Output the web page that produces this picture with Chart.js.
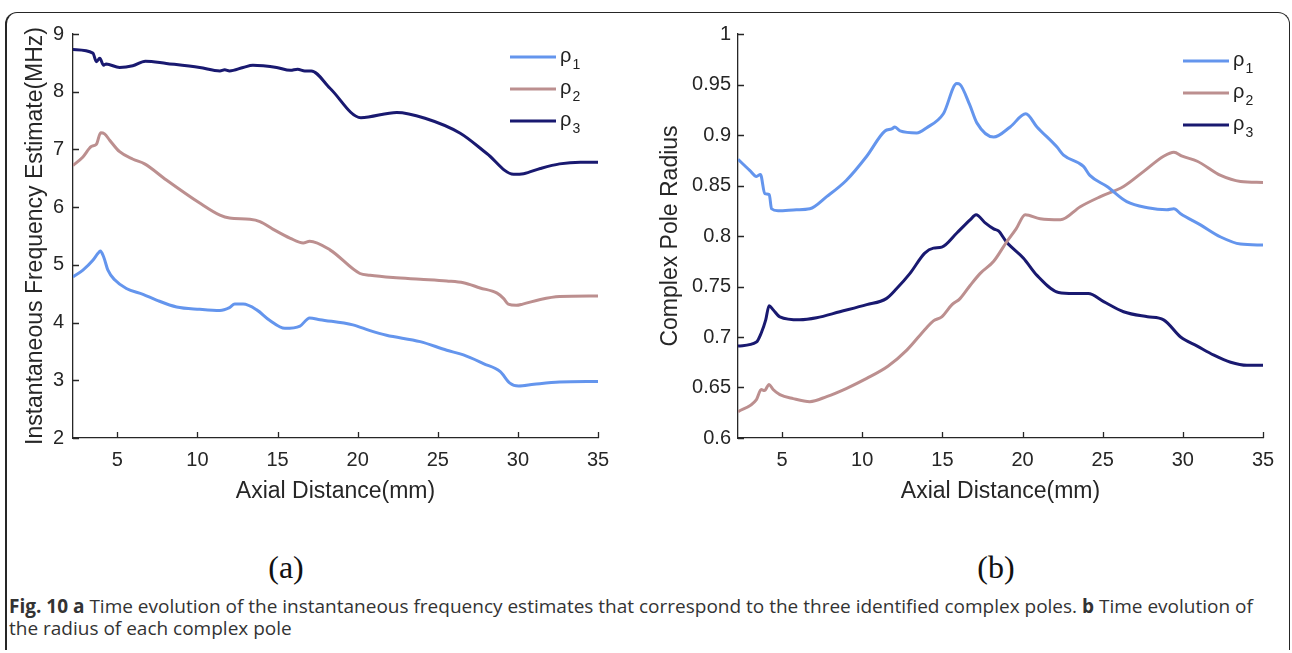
<!DOCTYPE html>
<html>
<head>
<meta charset="utf-8">
<script src="https://cdn.jsdelivr.net/npm/chart.js@4"></script>
<style>
body { margin: 0; background: #fff; width: 1292px; height: 653px; overflow: hidden; position: relative; }
.frame { position: absolute; left: 5px; top: 12px; width: 1285px; height: 638px; box-sizing: border-box;
  border: 1.5px solid #262626; border-left-width: 2px; border-bottom: none; border-radius: 12px 12px 0 0; }
#freqChart { position: absolute; left: 0; top: 0; }
#radiusChart { position: absolute; left: 646px; top: 0; }
.panel { position: absolute; top: 549px; font: 32px "Liberation Serif", serif; color: #111; transform: translateX(-50%); }
.caption { position: absolute; left: 9px; top: 595px; font: 19px "Open Sans", sans-serif; color: #333; line-height: 22px; white-space: nowrap; }
.caption b { font-weight: 700; }
</style>
</head>
<body>
<div class="frame"></div>
<canvas id="freqChart" width="646" height="505"></canvas>
<canvas id="radiusChart" width="646" height="505"></canvas>
<div class="panel" style="left:286px">(a)</div>
<div class="panel" style="left:996px">(b)</div>
<div class="caption"><b>Fig. 10 a</b> Time evolution of the instantaneous frequency estimates that correspond to the three identified complex poles. <b>b</b> Time evolution of<br>the radius of each complex pole</div>

<script>
// axis ticks
var axialTicks = [5, 10, 15, 20, 25, 30, 35];
var freqTicks = [2, 3, 4, 5, 6, 7, 8, 9];
var radiusTicks = [0.6, 0.65, 0.7, 0.75, 0.8, 0.85, 0.9, 0.95, 1];

var poleNames = ['ρ1', 'ρ2', 'ρ3'];
var poleColors = ['#6495ed', '#bc8f8f', '#191970'];

// (a) instantaneous frequency estimates, MHz
var freq1X = [2.22, 2.85, 3.47, 3.79, 3.94, 4.14, 4.41, 4.83, 5.56, 6.6, 7.44, 8.7, 10.14, 11.4, 12.0, 12.33, 12.85, 13.7, 14.5, 15.46, 16.4, 17.0, 17.64, 19.7, 20.77, 21.8, 23.9, 25.56, 26.6, 27.85, 28.9, 29.5, 30.04, 31.0, 32.6, 35];
var freq1Y = [4.79, 4.91, 5.08, 5.20, 5.24, 5.14, 4.91, 4.74, 4.59, 4.49, 4.39, 4.27, 4.23, 4.21, 4.26, 4.32, 4.32, 4.22, 4.04, 3.90, 3.94, 4.08, 4.05, 3.96, 3.86, 3.78, 3.67, 3.52, 3.44, 3.29, 3.15, 2.95, 2.90, 2.93, 2.97, 2.98];
var freq2X = [2.22, 2.85, 3.37, 3.69, 3.96, 4.2, 4.52, 5.14, 5.98, 6.7, 8.06, 10.14, 11.4, 12.0, 13.27, 13.9, 14.7, 15.8, 16.6, 17.0, 18.27, 20.14, 20.77, 22.2, 23.9, 25.56, 26.6, 27.64, 28.7, 29.1, 29.4, 29.9, 30.3, 31.4, 32.6, 35];
var freq2Y = [6.72, 6.87, 7.05, 7.09, 7.29, 7.27, 7.16, 6.96, 6.83, 6.75, 6.47, 6.07, 5.86, 5.81, 5.79, 5.75, 5.62, 5.46, 5.38, 5.41, 5.26, 4.85, 4.82, 4.78, 4.75, 4.72, 4.69, 4.60, 4.51, 4.42, 4.32, 4.30, 4.32, 4.40, 4.45, 4.46];
var freq3X = [2.22, 3.47, 3.69, 3.9, 4.14, 4.3, 5.14, 5.96, 6.75, 8.06, 10.14, 11.4, 11.7, 12.0, 12.85, 13.46, 14.1, 14.94, 15.8, 16.25, 16.7, 17.1, 18.27, 20.2, 22.44, 24.2, 26.4, 28.06, 29.73, 30.36, 31.4, 32.6, 33.9, 35];
var freq3Y = [8.73, 8.67, 8.52, 8.58, 8.46, 8.48, 8.42, 8.45, 8.53, 8.49, 8.42, 8.36, 8.38, 8.36, 8.42, 8.46, 8.45, 8.42, 8.37, 8.39, 8.36, 8.36, 8.06, 7.55, 7.64, 7.54, 7.28, 6.93, 6.57, 6.58, 6.67, 6.75, 6.78, 6.78];

// (b) complex pole radius
var rad1X = [2.25, 2.98, 3.4, 3.65, 3.92, 4.2, 4.34, 4.75, 5.9, 6.73, 7.78, 9.0, 10.28, 11.42, 11.84, 12.04, 12.36, 13.4, 14.0, 15.06, 15.9, 16.1, 16.7, 17.15, 18.2, 19.23, 20.2, 20.9, 22.15, 22.56, 23.8, 24.2, 25.27, 26.5, 27.8, 29.0, 29.44, 29.86, 31.1, 32.36, 33.6, 35];
var rad1Y = [0.876, 0.865, 0.859, 0.861, 0.842, 0.841, 0.827, 0.825, 0.826, 0.827, 0.839, 0.855, 0.879, 0.904, 0.906, 0.908, 0.904, 0.902, 0.907, 0.921, 0.951, 0.950, 0.930, 0.912, 0.898, 0.908, 0.921, 0.908, 0.888, 0.880, 0.869, 0.860, 0.849, 0.834, 0.828, 0.826, 0.827, 0.822, 0.811, 0.799, 0.792, 0.791];
var rad2X = [2.25, 3.4, 3.7, 3.9, 4.19, 4.44, 4.86, 5.69, 6.73, 7.78, 9.0, 10.28, 11.6, 12.78, 14.0, 14.44, 14.96, 15.6, 16.1, 16.73, 17.36, 18.2, 19.0, 19.6, 20.17, 21.1, 22.36, 23.6, 24.86, 26.3, 27.56, 28.8, 29.44, 29.96, 30.9, 32.36, 33.6, 35];
var rad2Y = [0.626, 0.638, 0.648, 0.647, 0.653, 0.648, 0.643, 0.639, 0.636, 0.641, 0.649, 0.659, 0.671, 0.687, 0.709, 0.716, 0.720, 0.732, 0.738, 0.751, 0.763, 0.775, 0.794, 0.807, 0.821, 0.817, 0.816, 0.829, 0.839, 0.849, 0.864, 0.879, 0.883, 0.879, 0.874, 0.860, 0.854, 0.853];
var rad3X = [2.25, 3.4, 3.7, 3.98, 4.19, 4.44, 4.86, 6.1, 7.15, 8.6, 10.28, 11.5, 12.15, 12.98, 13.9, 14.44, 14.96, 15.9, 16.73, 17.1, 17.67, 18.2, 18.5, 19.0, 20.06, 20.9, 22.25, 23.2, 24.1, 25.06, 26.3, 27.8, 28.8, 29.86, 30.9, 31.94, 32.98, 34.0, 35];
var rad3Y = [0.691, 0.695, 0.704, 0.717, 0.731, 0.727, 0.720, 0.717, 0.719, 0.725, 0.732, 0.738, 0.748, 0.763, 0.783, 0.788, 0.789, 0.803, 0.816, 0.821, 0.813, 0.807, 0.805, 0.794, 0.778, 0.761, 0.744, 0.743, 0.743, 0.735, 0.725, 0.720, 0.717, 0.700, 0.691, 0.682, 0.675, 0.672, 0.672];

var axisColor = '#262626';
var tickFont = { family: 'Liberation Sans, Arial, sans-serif', size: 20 };
var titleFont = { family: 'Liberation Sans, Arial, sans-serif', size: 23 };

function zip(xs, ys) {
  return xs.map(function (x, i) { return { x: x, y: ys[i] }; });
}

// short tick marks pointing into the plot, like the matlab default
var innerTicks = {
  id: 'innerTicks',
  afterDraw: function (chart) {
    var ctx = chart.ctx, area = chart.chartArea;
    var xs = chart.scales.x, ys = chart.scales.y;
    ctx.save();
    ctx.strokeStyle = axisColor;
    ctx.lineWidth = 1.3;
    ctx.beginPath();
    xs.ticks.forEach(function (t) {
      var px = Math.round(xs.getPixelForValue(t.value)) + 0.5;
      ctx.moveTo(px, area.bottom);
      ctx.lineTo(px, area.bottom - 6);
    });
    ys.ticks.forEach(function (t) {
      var py = Math.round(ys.getPixelForValue(t.value)) + 0.5;
      ctx.moveTo(area.left, py);
      ctx.lineTo(area.left + 6, py);
    });
    ctx.stroke();
    ctx.restore();
  }
};

// boxless legend in the upper right, with subscripted labels
var poleLegend = {
  id: 'poleLegend',
  afterDraw: function (chart, args, opts) {
    var ctx = chart.ctx, area = chart.chartArea;
    ctx.save();
    chart.data.datasets.forEach(function (ds, i) {
      var y = opts.top + i * opts.gap;
      var x0 = area.right - opts.fromRight;
      ctx.strokeStyle = ds.borderColor;
      ctx.lineWidth = 3;
      ctx.beginPath();
      ctx.moveTo(x0, y);
      ctx.lineTo(x0 + 46, y);
      ctx.stroke();
      ctx.fillStyle = '#222';
      ctx.textBaseline = 'alphabetic';
      ctx.font = '20px "Liberation Sans", Arial, sans-serif';
      var base = ds.label.charAt(0), sub = ds.label.slice(1);
      var tx = x0 + 50;
      ctx.fillText(base, tx, y + 5);
      var w = ctx.measureText(base).width;
      ctx.font = '14px "Liberation Sans", Arial, sans-serif';
      ctx.fillText(sub, tx + w + 1, y + 12);
    });
    ctx.restore();
  }
};

function makeChart(id, series, yTicks, yTitle, cfg) {
  return new Chart(document.getElementById(id), {
    type: 'line',
    data: {
      datasets: series.map(function (pts, i) {
        return {
          label: poleNames[i],
          data: pts,
          borderColor: poleColors[i],
          borderWidth: 3,
          pointRadius: 0,
          fill: false,
          cubicInterpolationMode: 'monotone'
        };
      })
    },
    options: {
      responsive: false,
      animation: false,
      layout: { padding: { left: 0, top: 34, right: cfg.padRight, bottom: 0 } },
      plugins: {
        legend: { display: false },
        tooltip: { enabled: false },
        poleLegend: cfg.legend
      },
      scales: {
        x: {
          type: 'linear',
          min: cfg.xMin,
          max: 35,
          afterBuildTicks: function (s) { s.ticks = axialTicks.map(function (v) { return { value: v }; }); },
          afterFit: function (s) { s.height = 505 - 438; },
          grid: { drawOnChartArea: false, drawTicks: false },
          border: { color: axisColor, width: 1.3 },
          ticks: { color: axisColor, font: tickFont, padding: 10, maxRotation: 0 },
          title: { display: true, text: 'Axial Distance(mm)', color: axisColor, font: titleFont, padding: { top: 0, bottom: 0 } }
        },
        y: {
          min: yTicks[0],
          max: yTicks[yTicks.length - 1],
          afterBuildTicks: function (s) { s.ticks = yTicks.map(function (v) { return { value: v }; }); },
          afterFit: function (s) { s.width = cfg.yWidth; },
          grid: { drawOnChartArea: false, drawTicks: false },
          border: { color: axisColor, width: 1.3 },
          ticks: { color: axisColor, font: tickFont, padding: cfg.labelPad, callback: function (v) { return String(v); } },
          title: { display: true, text: yTitle, color: axisColor, font: titleFont, padding: { top: cfg.titlePad, bottom: 0 } }
        }
      }
    },
    plugins: [innerTicks, poleLegend]
  });
}

makeChart('freqChart',
  [zip(freq1X, freq1Y), zip(freq2X, freq2Y), zip(freq3X, freq3Y)],
  freqTicks, 'Instantaneous Frequency Estimate(MHz)',
  { xMin: 2.23, padRight: 48, yWidth: 73, labelPad: 9, titlePad: 22,
    legend: { top: 57, gap: 32, fromRight: 88 } });

makeChart('radiusChart',
  [zip(rad1X, rad1Y), zip(rad2X, rad2Y), zip(rad3X, rad3Y)],
  radiusTicks, 'Complex Pole Radius',
  { xMin: 2.25, padRight: 29, yWidth: 92, labelPad: 7, titlePad: 11,
    legend: { top: 61, gap: 32, fromRight: 80 } });
</script>
</body>
</html>
